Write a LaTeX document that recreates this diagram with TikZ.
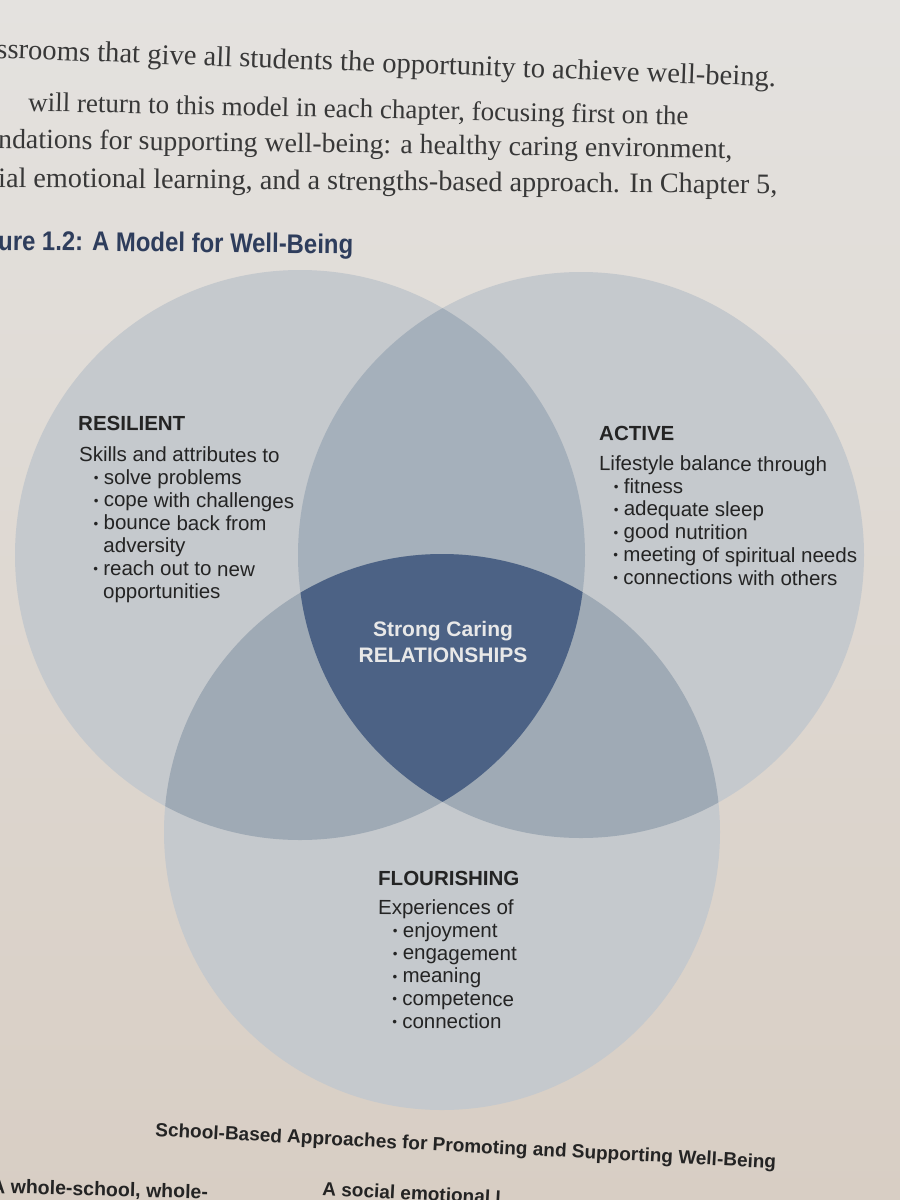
\documentclass[tikz,border=0pt]{standalone}
\usepackage{fontspec}
\setmainfont{Liberation Serif}
\newfontfamily\figfont{Liberation Sans}
\usetikzlibrary{positioning}
\definecolor{papertop}{HTML}{E4E2DF}
\definecolor{paperbot}{HTML}{D8CEC4}
\definecolor{cone}{HTML}{C5C9CD}
\definecolor{ctwo}{HTML}{9FAAB5}
\definecolor{ctwotop}{HTML}{A5B0BB}
\definecolor{cthree}{HTML}{4C6285}
\definecolor{ink}{HTML}{242424}
\definecolor{bodyink}{HTML}{383838}
\definecolor{titleink}{HTML}{2E3D5C}
\definecolor{lightink}{HTML}{E8E8E8}
\newcommand{\itm}[1]{\hspace*{15pt}\makebox[10pt][l]{\raisebox{1.5pt}{\scalebox{0.65}{\textbullet}}}#1}
\newcommand{\cont}[1]{\hspace*{25pt}#1}
\tikzset{
  bodytext/.style={anchor=base west, inner sep=0pt, text=bodyink},
  headtext/.style={anchor=base west, inner sep=0pt, text=ink, font=\figfont\bfseries\fontsize{20.5}{23}\selectfont, rotate=-0.4},
  listtext/.style={anchor=north west, inner sep=0pt, text=ink, align=left, font=\figfont\fontsize{20.5}{22.8}\selectfont, rotate=-0.4},
  centertext/.style={inner sep=0pt, text=lightink, align=center, font=\figfont\bfseries\fontsize{21}{26}\selectfont},
  boldsans/.style={anchor=base west, inner sep=0pt, text=ink, font=\figfont\bfseries\fontsize{19}{19}\selectfont},
}
\begin{document}
\begin{tikzpicture}[x=1pt,y=-1pt]
\useasboundingbox (0,0) rectangle (900,1200);
\clip (0,0) rectangle (900,1200);
\shade[top color=papertop, bottom color=paperbot] (0,0) rectangle (900,1200);

% circle centres
\coordinate (L) at (300,555);
\coordinate (R) at (581,555);
\coordinate (B) at (442,832);

\fill[cone] (L) circle[radius=285pt];
\fill[cone] (R) circle[radius=283pt];
\fill[cone] (B) circle[radius=278pt];
\begin{scope}
  \clip (L) circle[radius=285pt];
  \fill[ctwotop] (R) circle[radius=283pt];
  \fill[ctwo] (B) circle[radius=278pt];
\end{scope}
\begin{scope}
  \clip (R) circle[radius=283pt];
  \fill[ctwo] (B) circle[radius=278pt];
\end{scope}
\begin{scope}
  \clip (L) circle[radius=285pt];
  \clip (R) circle[radius=283pt];
  \fill[cthree] (B) circle[radius=278pt];
\end{scope}

% body text
\node[bodytext, rotate=-2.1, font=\fontsize{28.6}{28.6}\selectfont] (l1) at (-4,58) {ssrooms that give all students the opportunity to achieve well-being.};
\node[bodytext, rotate=-1.2, font=\fontsize{27}{27}\selectfont] (l2) at (28,111) {will return to this model in each chapter, focusing first on the};
\node[bodytext, rotate=-0.8, font=\fontsize{27.8}{27.8}\selectfont] (l3) at (-2,148) {ndations for supporting well-being: a healthy caring environment,};
\node[bodytext, rotate=-0.5, font=\fontsize{28.2}{28.2}\selectfont] (l4) at (-2,187) {ial emotional learning, and a strengths-based approach. In Chapter 5,};

\node[anchor=base west, inner sep=0pt, text=titleink, rotate=-0.6] (title) at (-2,250)
  {\scalebox{0.885}[1]{\figfont\bfseries\fontsize{27}{27}\selectfont ure 1.2: A Model for Well-Being}};

% resilient
\node[headtext] (reshead) at (78,430) {RESILIENT};
\node[listtext] (reslist) at (79,446) {Skills and attributes to\\
\itm{solve problems}\\
\itm{cope with challenges}\\
\itm{bounce back from}\\
\cont{adversity}\\
\itm{reach out to new}\\
\cont{opportunities}};

% active
\node[headtext] (acthead) at (599,440) {ACTIVE};
\node[listtext] (actlist) at (599,455) {Lifestyle balance through\\
\itm{fitness}\\
\itm{adequate sleep}\\
\itm{good nutrition}\\
\itm{meeting of spiritual needs}\\
\itm{connections with others}};

% centre
\node[centertext] (centre) at (443,642) {Strong Caring\\RELATIONSHIPS};

% flourishing
\node[headtext] (flohead) at (378,885) {FLOURISHING};
\node[listtext] (flolist) at (378,899) {Experiences of\\
\itm{enjoyment}\\
\itm{engagement}\\
\itm{meaning}\\
\itm{competence}\\
\itm{connection}};

% bottom text
\node[boldsans, rotate=-3] (sbh) at (155,1136) {\scalebox{1.0}[1]{School-Based Approaches for Promoting and Supporting Well-Being}};
\node[boldsans, rotate=-1.5, font=\figfont\bfseries\fontsize{19.5}{19.5}\selectfont] (wsch) at (-9,1193) {A whole-school, whole-};
\node[boldsans, rotate=-1.5] (wsch2) at (98,1217) {ity approach};
\node[boldsans, rotate=-3] (sel) at (322,1195) {A social emotional l};
\end{tikzpicture}
\end{document}
